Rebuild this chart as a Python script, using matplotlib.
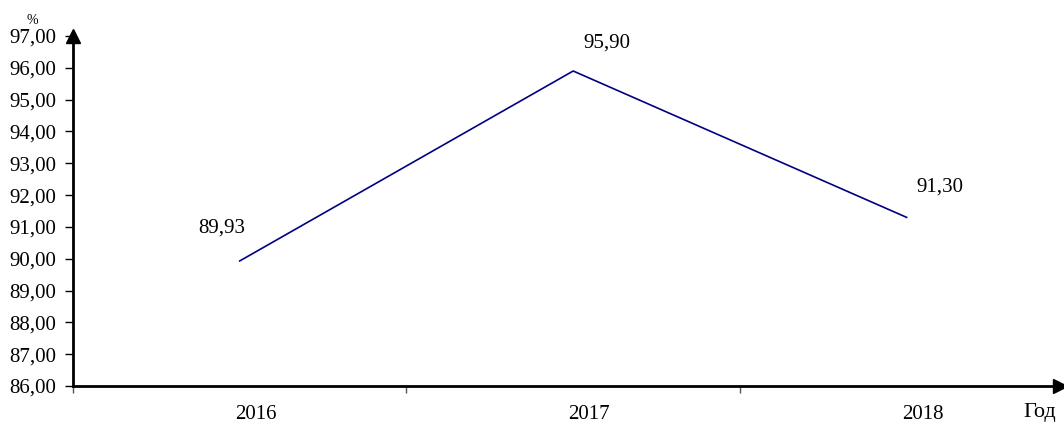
import matplotlib
matplotlib.use('Agg')
import matplotlib.pyplot as plt
import matplotlib.transforms as mtransforms
import numpy as np

plt.rcParams['font.family'] = ['Liberation Serif', 'DejaVu Serif']

years = ['2016', '2017', '2018']
values = [89.93, 95.90, 91.30]
value_labels = ['89,93', '95,90', '91,30']
label_offsets = [(-13, 24), (24, 20), (24, 22)]  # points, per label
y_ticks = np.arange(86, 98, 1)

fig = plt.figure(figsize=(10.64, 4.28), dpi=100)
ax = fig.add_axes([73 / 1064, 1 - 386 / 428, 987 / 1064, 350 / 428])

x = np.arange(len(years))
ax.plot(x, values, color='#000080', linewidth=1.2)

for xi, v, lab, off in zip(x, values, value_labels, label_offsets):
    ax.annotate(lab, (xi, v), xytext=off, textcoords='offset points',
                ha='center', va='center', fontsize=15)

ax.set_xlim(-0.5, 2.46)
ax.set_ylim(86, 97)

# y axis ticks with comma decimals
ax.set_yticks(y_ticks)
ax.set_yticklabels([f'{t:.2f}'.replace('.', ',') for t in y_ticks], fontsize=15)
ax.tick_params(axis='y', length=6, width=1, direction='out', pad=6)

# category labels between boundary ticks
ax.set_xticks([-0.5, 0.5, 1.5])
ax.set_xticklabels([])
ax.set_xticks(x, minor=True)
ax.set_xticklabels(years, minor=True, fontsize=15)
ax.tick_params(axis='x', which='major', length=5, width=1, color='#555555', direction='out')
ax.tick_params(axis='x', which='minor', length=0, pad=14)
# year labels sit a little to the right of the category centre
shift = mtransforms.ScaledTranslation(16 / 100, 0, fig.dpi_scale_trans)
for lbl in ax.get_xticklabels(minor=True):
    lbl.set_transform(lbl.get_transform() + shift)

for s in ['top', 'right']:
    ax.spines[s].set_visible(False)
for s in ['left', 'bottom']:
    ax.spines[s].set_linewidth(2)

# arrow heads on the axes
ax.plot(0, 1, marker='^', color='k', markersize=10, transform=ax.transAxes, clip_on=False)
ax.plot(1, 0, marker='>', color='k', markersize=10, transform=ax.transAxes, clip_on=False)

fig.text(32 / 1064, 1 - 20 / 428, '%', fontsize=10, ha='center', va='center')
fig.text(1040 / 1064, 1 - 413 / 428, 'Год', fontsize=16, ha='center', va='center')

fig.savefig('out.png', dpi=100)
